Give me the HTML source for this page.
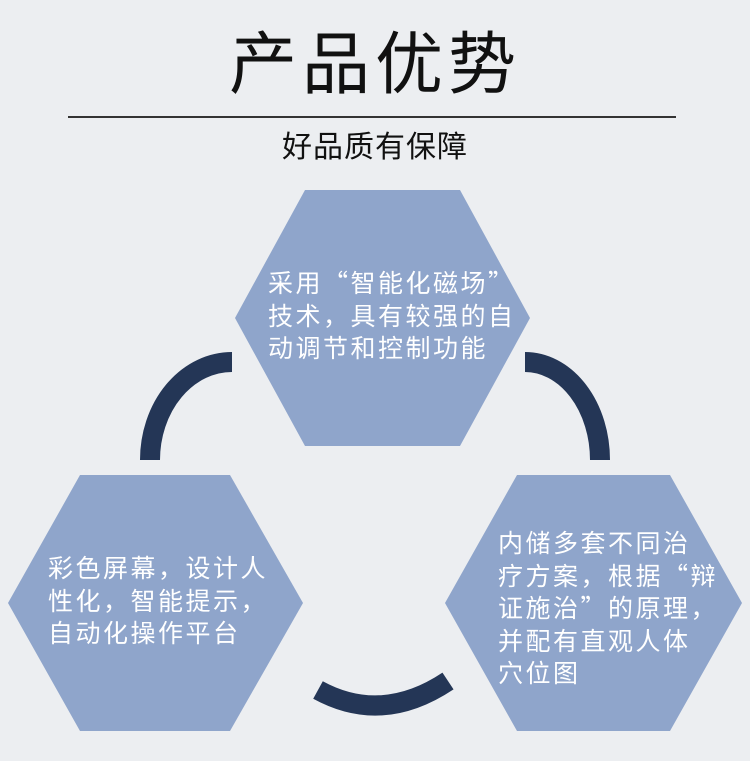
<!DOCTYPE html>
<html><head><meta charset="utf-8"><style>
html,body{margin:0;padding:0}
body{width:750px;height:761px;position:relative;overflow:hidden;background:#eceef1;font-family:"Liberation Sans","Noto Sans CJK SC",sans-serif}
.t{position:absolute;left:0;width:750px;text-align:center;color:#111}
.tx{position:absolute;color:#fff;font-size:25px;line-height:32.5px;white-space:nowrap;letter-spacing:2.5px;font-family:"Noto Sans CJK SC",sans-serif}
</style></head><body>
<div class="t" style="top:22px;font-size:68px;line-height:86px;letter-spacing:5px">产品优势</div>
<div style="position:absolute;left:68px;top:116px;width:608px;height:2px;background:#333"></div>
<div class="t" style="top:128px;font-size:30px;line-height:40px;letter-spacing:1px">好品质有保障</div>
<svg width="750" height="761" style="position:absolute;left:0;top:0">
<g fill="#8fa5cb">
<polygon points="305,190 460,190 530,318 460,446 305,446 235,318"/>
<polygon points="80,475 230,475 303,603 230,731 80,731 8,603"/>
<polygon points="517,475 670,475 742,603 670,731 517,731 445,603"/>
</g>
<g fill="none" stroke="#243656" stroke-width="20">
<path d="M150,460 A82,98 0 0 1 232,362"/>
<path d="M525,362 A75,98 0 0 1 600,460"/>
<path d="M318,690 Q382,725 448,681"/>
</g>
</svg>
<div class="tx" style="left:268px;top:266px">采用“智能化磁场”<br>技术，具有较强的自<br>动调节和控制功能</div>
<div class="tx" style="left:48px;top:551px">彩色屏幕，设计人<br>性化，智能提示，<br>自动化操作平台</div>
<div class="tx" style="left:498px;top:526px">内储多套不同治<br>疗方案，根据“辩<br>证施治”的原理，<br>并配有直观人体<br>穴位图</div>
</body></html>
